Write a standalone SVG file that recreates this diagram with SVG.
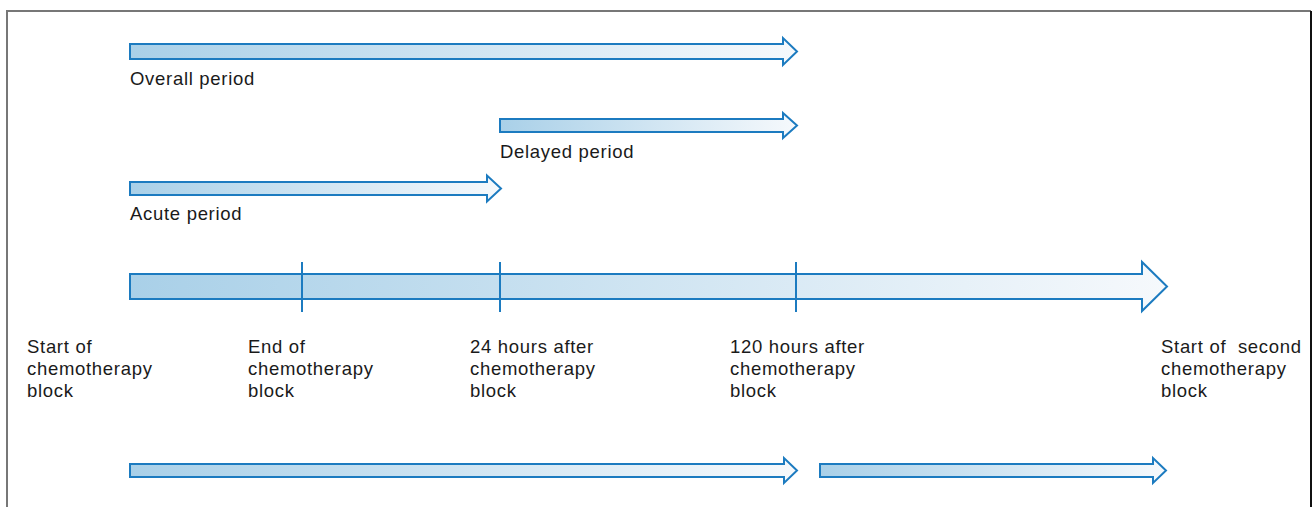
<svg xmlns="http://www.w3.org/2000/svg" width="1312" height="507" viewBox="0 0 1312 507">
<defs>
<linearGradient id="g" x1="0" y1="0" x2="1" y2="0">
<stop offset="0" stop-color="#a9d0e8"/>
<stop offset="1" stop-color="#f6f9fc"/>
</linearGradient>
<style>
.arr{fill:url(#g);stroke:#1c7bc0;stroke-width:2;stroke-linejoin:miter}
.tick{stroke:#1c7bc0;stroke-width:2}
.t{font-family:"Liberation Sans",Arial,sans-serif;font-size:18.5px;letter-spacing:0.7px;fill:#1a1a1a}
.frame{stroke:#777;stroke-width:2;fill:none}
</style>
</defs>
<rect width="1312" height="507" fill="#fff"/>
<g id="frame">
<path class="frame" d="M7,507 V11 H1311"/>
<path d="M1311,11 V507" stroke="#111" stroke-width="2"/>
</g>
<g id="connectors">
<g id="overall-arrow"><path class="arr" d="M130,44 H783 V38 L797,51.5 L783,65 V59 H130 Z"/></g>
<g id="delayed-arrow"><path class="arr" d="M500,119 H783 V113 L797,125.5 L783,138 V132 H500 Z"/></g>
<g id="acute-arrow"><path class="arr" d="M130,182 H487 V175.5 L501,188.5 L487,201.5 V195 H130 Z"/></g>
<g id="timeline-arrow"><path class="arr" d="M130,274 H1142 V262 L1167,286.5 L1142,311 V299 H130 Z"/>
<line class="tick" x1="302" y1="262" x2="302" y2="312"/>
<line class="tick" x1="500" y1="262" x2="500" y2="312"/>
<line class="tick" x1="796" y1="262" x2="796" y2="312"/>
</g>
<g id="bottom-arrow-1"><path class="arr" d="M130,464 H784 V458 L797,470.5 L784,483 V477 H130 Z"/></g>
<g id="bottom-arrow-2"><path class="arr" d="M820,464 H1153 V458 L1166,470.5 L1153,483 V477 H820 Z"/></g>
</g>
<g id="label-overall"><text class="t" x="130" y="84.5">Overall period</text></g>
<g id="label-delayed"><text class="t" x="500" y="158">Delayed period</text></g>
<g id="label-acute"><text class="t" x="130" y="219.5">Acute period</text></g>
<g id="label-start"><text class="t" x="27" y="353"><tspan x="27">Start of</tspan><tspan x="27" y="375">chemotherapy</tspan><tspan x="27" y="397">block</tspan></text></g>
<g id="label-end"><text class="t" x="248" y="353"><tspan x="248">End of</tspan><tspan x="248" y="375">chemotherapy</tspan><tspan x="248" y="397">block</tspan></text></g>
<g id="label-24h"><text class="t" x="470" y="353"><tspan x="470">24 hours after</tspan><tspan x="470" y="375">chemotherapy</tspan><tspan x="470" y="397">block</tspan></text></g>
<g id="label-120h"><text class="t" x="730" y="353"><tspan x="730">120 hours after</tspan><tspan x="730" y="375">chemotherapy</tspan><tspan x="730" y="397">block</tspan></text></g>
<g id="label-second"><text class="t" x="1161" y="353" xml:space="preserve"><tspan x="1161">Start of  second</tspan><tspan x="1161" y="375">chemotherapy</tspan><tspan x="1161" y="397">block</tspan></text></g>
</svg>
